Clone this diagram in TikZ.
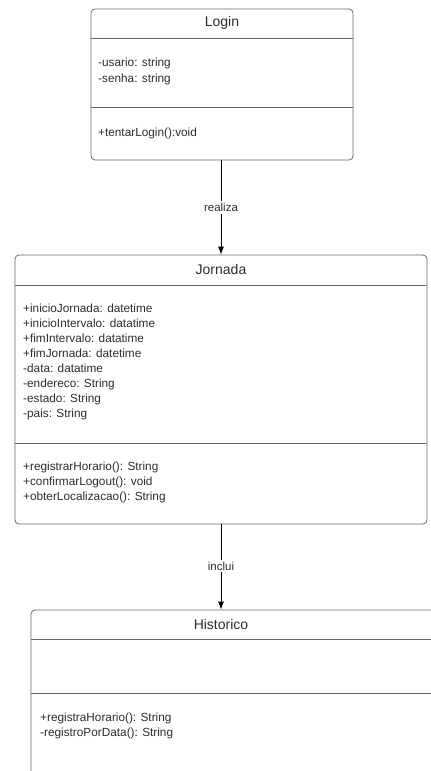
\documentclass[tikz,border=0pt]{standalone}
\definecolor{boxgray}{RGB}{105, 105, 105}
\definecolor{textgray}{RGB}{45, 45, 45}
\usepackage{fontspec}
\setmainfont{Liberation Sans}
\usepackage{tikz}
\usetikzlibrary{arrows.meta, positioning}

\begin{document}
\begin{tikzpicture}[x=1pt, y=-1pt,
    classbox/.style={draw=boxgray, line width=0.8pt, rounded corners=4pt, fill=white, inner sep=0pt},
    sepline/.style={draw=boxgray, line width=0.8pt},
    title/.style={font=\fontsize{14}{16}\selectfont, text=textgray},
    members/.style={font=\fontsize{11.8}{15}\selectfont, text=textgray, align=left, anchor=west, inner sep=0pt},
    assoc/.style={draw=black, line width=0.8pt, -{Latex[length=8pt, width=6pt]}},
    assoclabel/.style={font=\fontsize{11.5}{13}\selectfont, text=textgray, fill=white, inner sep=2pt}]
    \useasboundingbox (0,0) rectangle (431,771);
    \clip (0,0) rectangle (431,771);
    \fill[white] (0,0) rectangle (431,771);
    \node[classbox, minimum width=262pt, minimum height=151pt] (login) at (222,84.5) {};
    \draw[sepline] (login.west |- 0,38) -- (login.east |- 0,38);
    \draw[sepline] (login.west |- 0,107) -- (login.east |- 0,107);
    \node[title] (logintitle) at (222,23) {Login};
    \node[members, font=\fontsize{11.8}{16}\selectfont] (loginattr) at (98,71) {-usario: string\\-senha: string};
    \node[members] (loginops) at (98,133) {+tentarLogin():void};
    \node[classbox, minimum width=412pt, minimum height=269pt] (jornada) at (221,389.5) {};
    \draw[sepline] (jornada.west |- 0,285) -- (jornada.east |- 0,285);
    \draw[sepline] (jornada.west |- 0,443) -- (jornada.east |- 0,443);
    \node[title] (jornadatitle) at (221,269) {Jornada};
    \node[members] (jornadaattr) at (23,361.5) {+inicioJornada: datetime\\+inicioIntervalo: datatime\\+fimIntervalo: datatime\\+fimJornada: datetime\\-data: datatime\\-endereco: String\\-estado: String\\-pais: String};
    \node[members] (jornadaops) at (23,482) {+registrarHorario(): String\\+confirmarLogout(): void\\+obterLocalizacao(): String};
    \node[classbox, minimum width=412pt, minimum height=220pt] (historico) at (237,720) {};
    \draw[sepline] (historico.west |- 0,639) -- (historico.east |- 0,639);
    \draw[sepline] (historico.west |- 0,693) -- (historico.east |- 0,693);
    \node[title] (historicotitle) at (221,624) {Historico};
    \node[members] (historicoops) at (40,725.5) {+registraHorario(): String\\-registroPorData(): String};
    \draw[assoc] (login.south -| 221,0) -- node[assoclabel] (realiza) {realiza} (jornada.north);
    \draw[assoc] (jornada.south) -- node[assoclabel, pos=0.49] (inclui) {inclui} (jornada.south |- historico.north);
\end{tikzpicture}
\end{document}
